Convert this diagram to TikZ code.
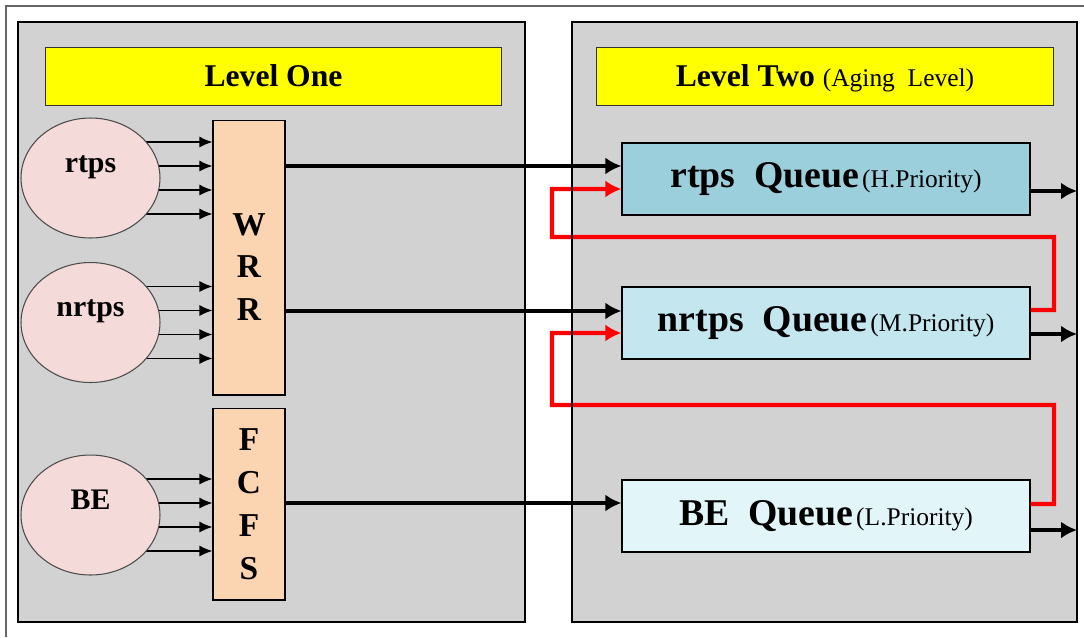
\documentclass[tikz,border=0pt]{standalone}
\usepackage{fontspec}
\setmainfont{Liberation Serif}
\usetikzlibrary{arrows.meta, shapes.geometric}

\definecolor{panelgray}{RGB}{210,210,210}
\definecolor{lvlyellow}{RGB}{255,255,0}
\definecolor{srcpink}{RGB}{245,218,218}
\definecolor{schedpeach}{RGB}{251,212,178}
\definecolor{qhigh}{RGB}{156,207,220}
\definecolor{qmid}{RGB}{196,230,239}
\definecolor{qlow}{RGB}{226,245,248}

\newcommand\lvlnote[1]{{\fontsize{14.5}{16}\selectfont\mdseries #1}}
\newcommand\qlabel[2]{{\fontsize{21.5}{24}\selectfont\bfseries #1}\,{\fontsize{14.5}{16}\selectfont #2}}

\pgfdeclarelayer{panelbg}
\pgfdeclarelayer{feedlines}
\pgfsetlayers{panelbg,feedlines,main}

\tikzset{
  frameline/.style={draw=black!60, line width=0.8pt},
  panelline/.style={draw=black, line width=1.4pt},
  levelbox/.style={draw=black!80, line width=0.6pt, fill=lvlyellow, minimum width=9.14cm,
    minimum height=1.16cm, inner sep=0pt, text height=0.45cm, text depth=0.04cm,
    font=\fontsize{18}{20}\selectfont\bfseries},
  src/.style={ellipse, draw=black!70, line width=0.6pt, fill=srcpink, minimum width=2.78cm,
    minimum height=2.4cm, inner sep=0pt, text height=0.3cm, text depth=0.54cm,
    font=\fontsize{17}{19}\selectfont\bfseries},
  sched/.style={draw=black, line width=0.6pt, fill=schedpeach, minimum width=1.44cm, inner sep=0pt},
  schedtext/.style={align=center, font=\fontsize{19}{24.4}\selectfont\bfseries},
  queue/.style={draw=black, line width=0.7pt, minimum width=8.16cm, minimum height=1.44cm, inner sep=0pt},
  feedarrow/.style={draw=black, line width=0.8pt, -{Latex[length=0.26cm,width=0.22cm]}},
  passarrow/.style={draw=black, line width=2pt, -{Latex[length=0.32cm,width=0.34cm]}},
  agearrow/.style={draw=red, line width=2.3pt, -{Latex[length=0.32cm,width=0.34cm]}}
}

\begin{document}
\begin{tikzpicture}[x=0.02cm, y=-0.02cm]
\useasboundingbox (0,0) rectangle (1084,637);
\begin{pgfonlayer}{panelbg}
\fill[white] (0,0) rectangle (1084,637);
\fill[panelgray] (18,22) rectangle (525,622);
\fill[panelgray] (572,22) rectangle (1077,622);
\end{pgfonlayer}
\draw[frameline] (1084,6) -- (6,6) -- (6,637);
\coordinate (rightedge) at (1077,0);

\node[levelbox] (lvlone) at (273.5,76.5) {Level One};
\node[levelbox] (lvltwo) at (825,76.5) {Level Two \lvlnote{(Aging\ \ Level)}};

\node[src] (rtps) at (90.5,178) {rtps};
\node[src] (nrtps) at (90.5,322.5) {nrtps};
\node[src] (be) at (90.5,515) {BE};

\node[sched, minimum height=5.5cm, label={[schedtext, yshift=-0.19cm]center:W\\R\\R}] (wrr) at (249,257.5) {};
\node[sched, minimum height=3.84cm, label={[schedtext]center:F\\C\\F\\S}] (fcfs) at (249,504) {};

\node[queue, fill=qhigh] (rtpsq) at (826,179) {\qlabel{rtps\ \ Queue}{(H.Priority)}};
\node[queue, fill=qmid] (nrtpsq) at (826,323) {\qlabel{nrtps\ \ Queue}{(M.Priority)}};
\node[queue, fill=qlow] (beq) at (826,516) {\qlabel{BE\ \ Queue}{(L.Priority)}};

\begin{pgfonlayer}{feedlines}
\foreach \s/\t in {rtps/wrr, nrtps/wrr, be/fcfs}
  \foreach \dy in {0.72,0.24,-0.24,-0.72} {
    \coordinate (fs) at ([yshift=\dy cm]\s.center);
    \draw[feedarrow] (fs) -- (fs -| \t.west);
  }
\end{pgfonlayer}

\coordinate (o1) at ([yshift=0.26cm]rtpsq.west);
\coordinate (o2) at ([yshift=0.24cm]nrtpsq.west);
\coordinate (o3) at ([yshift=0.26cm]beq.west);
\draw[passarrow] (o1 -| wrr.east) -- (o1);
\draw[passarrow] (o2 -| wrr.east) -- (o2);
\draw[passarrow] (o3 -| fcfs.east) -- (o3);

\foreach \q/\dy in {rtpsq/-0.24, nrtpsq/-0.22, beq/-0.28} {
  \coordinate (qo) at ([yshift=\dy cm]\q.east);
  \draw[passarrow] (qo) -- (qo -| rightedge);
}

\draw[agearrow] ([yshift=0.26cm]nrtpsq.east) -| (1054,237) -| (552,189) -- ([yshift=-0.2cm]rtpsq.west);
\draw[agearrow] ([yshift=0.24cm]beq.east) -| (1054,405) -| (552,333) -- ([yshift=-0.2cm]nrtpsq.west);

\draw[panelline] (18,22) rectangle (525,622);
\draw[panelline] (572,22) rectangle (1077,622);
\end{tikzpicture}
\end{document}
